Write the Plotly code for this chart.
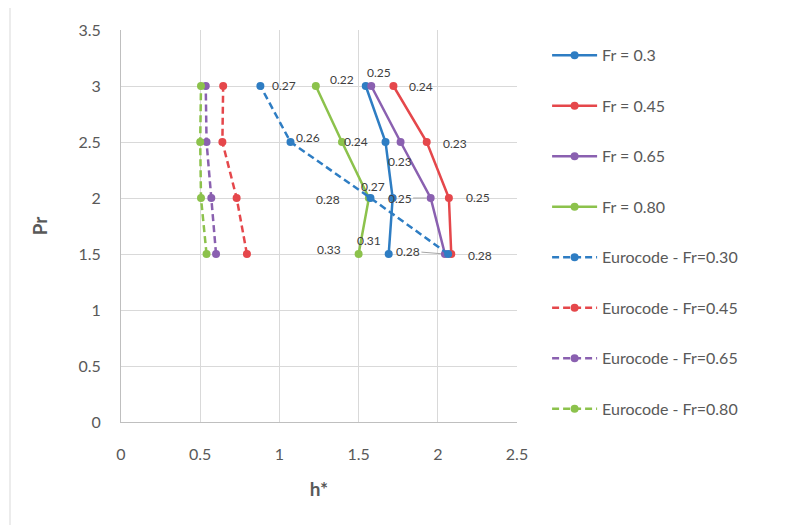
import plotly.graph_objects as go

# ---- data ----
pr = [1.5, 2.0, 2.5, 3.0]

h_fr030 = [1.69, 1.715, 1.67, 1.545]
h_fr045 = [2.085, 2.07, 1.93, 1.72]
h_fr065 = [2.045, 1.955, 1.765, 1.58]
h_fr080 = [1.50, 1.565, 1.395, 1.23]

h_ec030 = [2.065, 1.575, 1.07, 0.88]
h_ec045 = [0.795, 0.73, 0.64, 0.645]
h_ec065 = [0.60, 0.57, 0.54, 0.535]
h_ec080 = [0.54, 0.505, 0.50, 0.505]

series_names = ["Fr = 0.3", "Fr = 0.45", "Fr = 0.65", "Fr = 0.80",
                "Eurocode - Fr=0.30", "Eurocode - Fr=0.45",
                "Eurocode - Fr=0.65", "Eurocode - Fr=0.80"]

x_ticks = [0, 0.5, 1, 1.5, 2, 2.5]
y_ticks = [0, 0.5, 1, 1.5, 2, 2.5, 3, 3.5]

# data labels: (series index, point index, text)
label_series = [3, 3, 3, 3, 0, 0, 0, 0, 2, 2, 1, 1, 1, 1, 4, 4]
label_point  = [3, 2, 1, 0, 3, 2, 1, 0, 1, 0, 3, 2, 1, 0, 3, 2]
label_text   = ["0.22", "0.24", "0.28", "0.33", "0.25", "0.23", "0.27", "0.31",
                "0.25", "0.28", "0.24", "0.23", "0.25", "0.28", "0.27", "0.26"]
# label offsets in pixels (style)
label_dx = [26, 14, -41, -30, 13, 14, -20, -20, -31, -37, 28, 28, 29, 29, 24, 18]
label_dy = [7, 1, -1, 5, 14, -19, 12, 14, 0, 3, 0, -1, 1, -1, 1, 5]
label_leader = [False]*8 + [True, True] + [False]*6

# ---- style ----
colors = ["#2E7DC3", "#E5474B", "#8A60B0", "#8CC24C"]
all_h = [h_fr030, h_fr045, h_fr065, h_fr080, h_ec030, h_ec045, h_ec065, h_ec080]
FONT = "Lato, 'Liberation Sans', sans-serif"
TXT = "#595959"

fig = go.Figure()
for i, (name, hv) in enumerate(zip(series_names, all_h)):
    col = colors[i % 4]
    dash = "solid" if i < 4 else "7px,4px"
    fig.add_trace(go.Scatter(
        x=hv, y=pr, mode="lines+markers", name=name,
        line=dict(color=col, width=2.5, dash=dash),
        marker=dict(color=col, size=8),
        legendgroup="g%d" % i,
    ))

for s, p, t, dx, dy, lead in zip(label_series, label_point, label_text,
                                  label_dx, label_dy, label_leader):
    hx = all_h[s][p]
    py = pr[p]
    if lead:
        fig.add_annotation(x=hx, y=py, text=t, showarrow=True, arrowhead=0,
                           arrowwidth=1, arrowcolor="#A6A6A6", ax=dx, ay=-dy,
                           standoff=4,
                           font=dict(family=FONT, size=12, color="#404040"))
    else:
        fig.add_annotation(x=hx, y=py, text=t, showarrow=False,
                           xshift=dx, yshift=dy,
                           font=dict(family=FONT, size=12, color="#404040"))

# chart border
fig.add_shape(type="rect", xref="paper", yref="paper",
              x0=(10 - 121) / 396, x1=(800 - 121) / 396,
              y0=(422 - 540) / 392, y1=(422 - 7) / 392,
              line=dict(color="#D9D9D9", width=1), layer="below")

W, H = 778, 517  # page body adds an 8px offset
fig.update_layout(
    width=W, height=H,
    margin=dict(l=113, r=W - 113 - 396, t=22, b=H - 22 - 392, autoexpand=False),
    paper_bgcolor="white", plot_bgcolor="white",
    font=dict(family=FONT, size=16, color=TXT),
    showlegend=True,
    legend=dict(x=1.076, y=0.484, xanchor="left", yanchor="middle",
                font=dict(family=FONT, size=16, color=TXT),
                itemwidth=45, tracegroupgap=26.7, bgcolor="rgba(0,0,0,0)"),
    xaxis=dict(range=[0, 2.5], tickvals=x_ticks, ticktext=[str(v) for v in x_ticks],
               showgrid=True, gridcolor="#D9D9D9", gridwidth=1, automargin=False,
               showline=True, linecolor="#BFBFBF", linewidth=1, mirror=False,
               zeroline=False, ticks="outside", ticklen=18, tickcolor="rgba(0,0,0,0)",
               title=dict(text="<b>h*</b>", font=dict(family=FONT, size=19, color=TXT),
                          standoff=20),
               tickfont=dict(family=FONT, size=16, color=TXT)),
    yaxis=dict(range=[0, 3.5], tickvals=y_ticks, ticktext=[str(v) for v in y_ticks],
               showgrid=True, gridcolor="#D9D9D9", gridwidth=1, automargin=False,
               showline=True, linecolor="#BFBFBF", linewidth=1,
               zeroline=False, ticks="outside", ticklen=16, tickcolor="rgba(0,0,0,0)",
               title=dict(text="<b>Pr</b>", font=dict(family=FONT, size=19, color=TXT),
                          standoff=25),
               tickfont=dict(family=FONT, size=16, color=TXT)),
)

fig.write_html("out.html")
